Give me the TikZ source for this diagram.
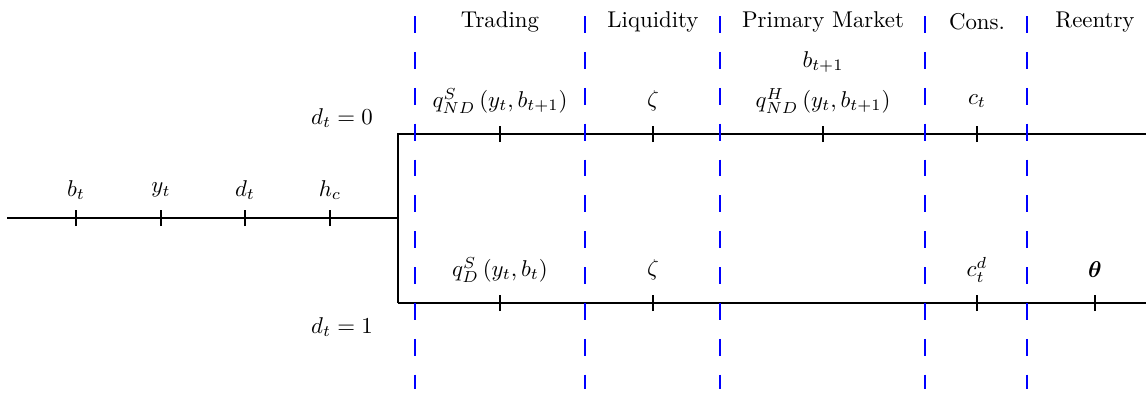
\documentclass[tikz,border=0pt]{standalone}
\usepackage{amsmath,amssymb,bm}
\usetikzlibrary{calc,positioning}

\begin{document}
\begin{tikzpicture}[
    timeline/.style={thick},
    tickmark/.style={thick},
    phase/.style={blue,semithick,dash pattern=on 7.4pt off 8.3pt},
  ]
    \useasboundingbox (0,0) rectangle (17.631,6.062);
    % state before the default decision
    \coordinate (start) at (0.108,2.708);
    \coordinate (split) at (6.123,2.708);
    \coordinate (ndL) at (6.123,4.0);
    \coordinate (ndR) at (17.631,4.0);
    \coordinate (dL) at (6.123,1.4);
    \coordinate (dR) at (17.631,1.4);
    \draw[timeline] (start) -- (split);
    \draw[timeline] (dL) -- (ndL) -- (ndR);
    \draw[timeline] (dL) -- (dR);
    \foreach \x/\lab in {1.169/b_t,2.477/y_t,3.769/d_t,5.077/h_c}{
      \draw[tickmark] (\x,2.585) -- (\x,2.831);
      \node at (\x,3.138) {$\lab$};
    }
    \node (nd) at (5.262,4.246) {$d_t = 0$};
    \node (d) at (5.262,1.031) {$d_t = 1$};
    % phases
    \draw[phase] (6.385,5.815) -- (6.385,0.077);
    \draw[phase] (9.0,5.815) -- (9.0,0.077);
    \draw[phase] (11.077,5.815) -- (11.077,0.077);
    \draw[phase] (14.231,5.815) -- (14.231,0.077);
    \draw[phase] (15.8,5.815) -- (15.8,0.077);
    \node (trading) at (7.692,5.723) {Trading};
    \node (liquidity) at (10.046,5.723) {Liquidity};
    \node (primary) at (12.662,5.723) {Primary Market};
    \node (cons) at (15.031,5.723) {Cons.};
    \node (reentry) at (16.846,5.723) {Reentry};
    % no default
    \draw[tickmark] (7.692,3.877) -- (7.692,4.123);
    \draw[tickmark] (10.046,3.877) -- (10.046,4.123);
    \draw[tickmark] (12.662,3.877) -- (12.662,4.123);
    \draw[tickmark] (15.031,3.877) -- (15.031,4.123);
    \node (qS) at (7.692,4.508) {$q^S_{ND}\left(y_t,b_{t+1}\right)$};
    \node (zetaND) at (10.046,4.508) {$\zeta$};
    \node (qH) at (12.662,4.508) {$q^H_{ND}\left(y_t,b_{t+1}\right)$};
    \node (bnext) at (12.662,5.108) {$b_{t+1}$};
    \node (ct) at (15.031,4.508) {$c_t$};
    % default
    \draw[tickmark] (7.692,1.277) -- (7.692,1.523);
    \draw[tickmark] (10.046,1.277) -- (10.046,1.523);
    \draw[tickmark] (15.031,1.277) -- (15.031,1.523);
    \draw[tickmark] (16.846,1.277) -- (16.846,1.523);
    \node (qD) at (7.692,1.908) {$q^S_{D}\left(y_t,b_t\right)$};
    \node (zetaD) at (10.046,1.908) {$\zeta$};
    \node (ctd) at (15.031,1.908) {$c^d_t$};
    \node (theta) at (16.846,1.908) {$\bm{\theta}$};
  \end{tikzpicture}
\end{document}
